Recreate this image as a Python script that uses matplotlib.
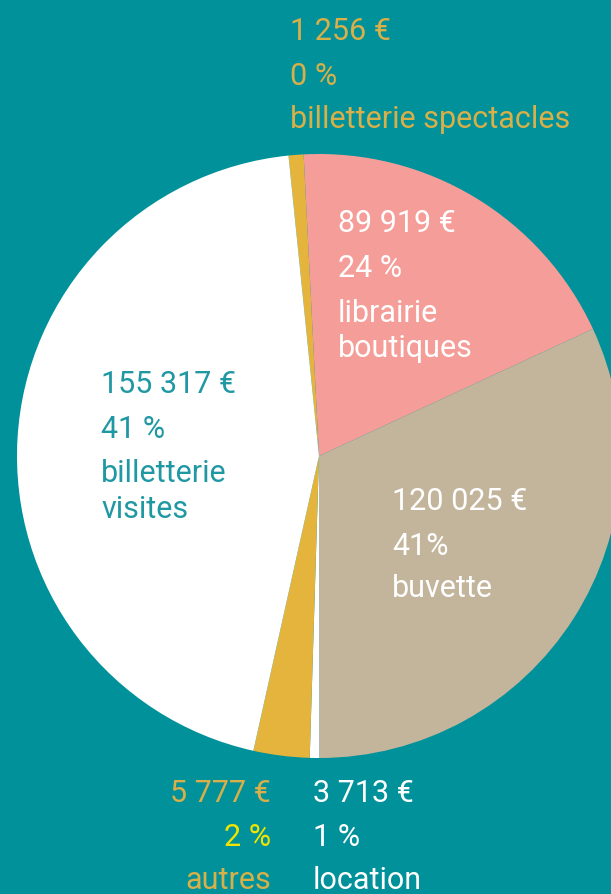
import matplotlib
matplotlib.use("Agg")
import matplotlib.pyplot as plt

# data
categories = ["billetterie spectacles", "librairie\nboutiques", "buvette",
              "location", "autres", "billetterie\nvisites"]
amounts = [1256, 89919, 120025, 3713, 5777, 155317]
percent_labels = ["0 %", "24 %", "41%", "1 %", "2 %", "41 %"]
# slice sizes as drawn (percent of the full circle, measured on the picture)
slice_shares = [0.8, 18.9, 31.9, 0.5, 3.0, 44.9]

BG = "#00919B"
slice_colors = ["#E4B43C", "#F59D98", "#C3B59B", "#FFFFFF", "#E4B43C", "#FFFFFF"]
GOLD_TXT = "#D8AF48"

W, H = 611, 895


def fmt_amount(value: int) -> str:
    return f"{value:,}".replace(",", " ") + " €"


fig = plt.figure(figsize=(W / 100, H / 100), dpi=100)
fig.patch.set_facecolor(BG)
ax = fig.add_axes([0, 0, 1, 1])
ax.set_facecolor(BG)

ax.pie(slice_shares, colors=slice_colors, startangle=95.8, counterclock=False,
       radius=302, center=(319, H - 457), wedgeprops=dict(linewidth=0))
ax.set_xlim(0, W)
ax.set_ylim(0, H)
ax.set_aspect("equal")
ax.axis("off")

font = dict(family=["Roboto", "DejaVu Sans"], weight="normal", fontsize=22)

# (x, baselines in px from top, alignment, colours per line)
layout = [
    (290, [40, 85, 128], "left", [GOLD_TXT, GOLD_TXT, GOLD_TXT]),
    (338, [232, 277, 322, 357], "left", ["white"] * 4),
    (392, [510, 555, 597], "left", ["white"] * 3),
    (313, [802, 846, 889], "left", ["white"] * 3),
    (271, [802, 846, 889], "right", [GOLD_TXT, "#F0E400", GOLD_TXT]),
    (101, [393, 438, 482, 518], "left", ["#1F98A3"] * 4),
]

for i, (x, baselines, ha, colors) in enumerate(layout):
    lines = [fmt_amount(amounts[i]), percent_labels[i]] + categories[i].split("\n")
    for text, y, c in zip(lines, baselines, colors):
        ax.text(x, H - y, text, ha=ha, va="baseline", color=c, **font)

fig.savefig("out.png", dpi=100, facecolor=BG)
